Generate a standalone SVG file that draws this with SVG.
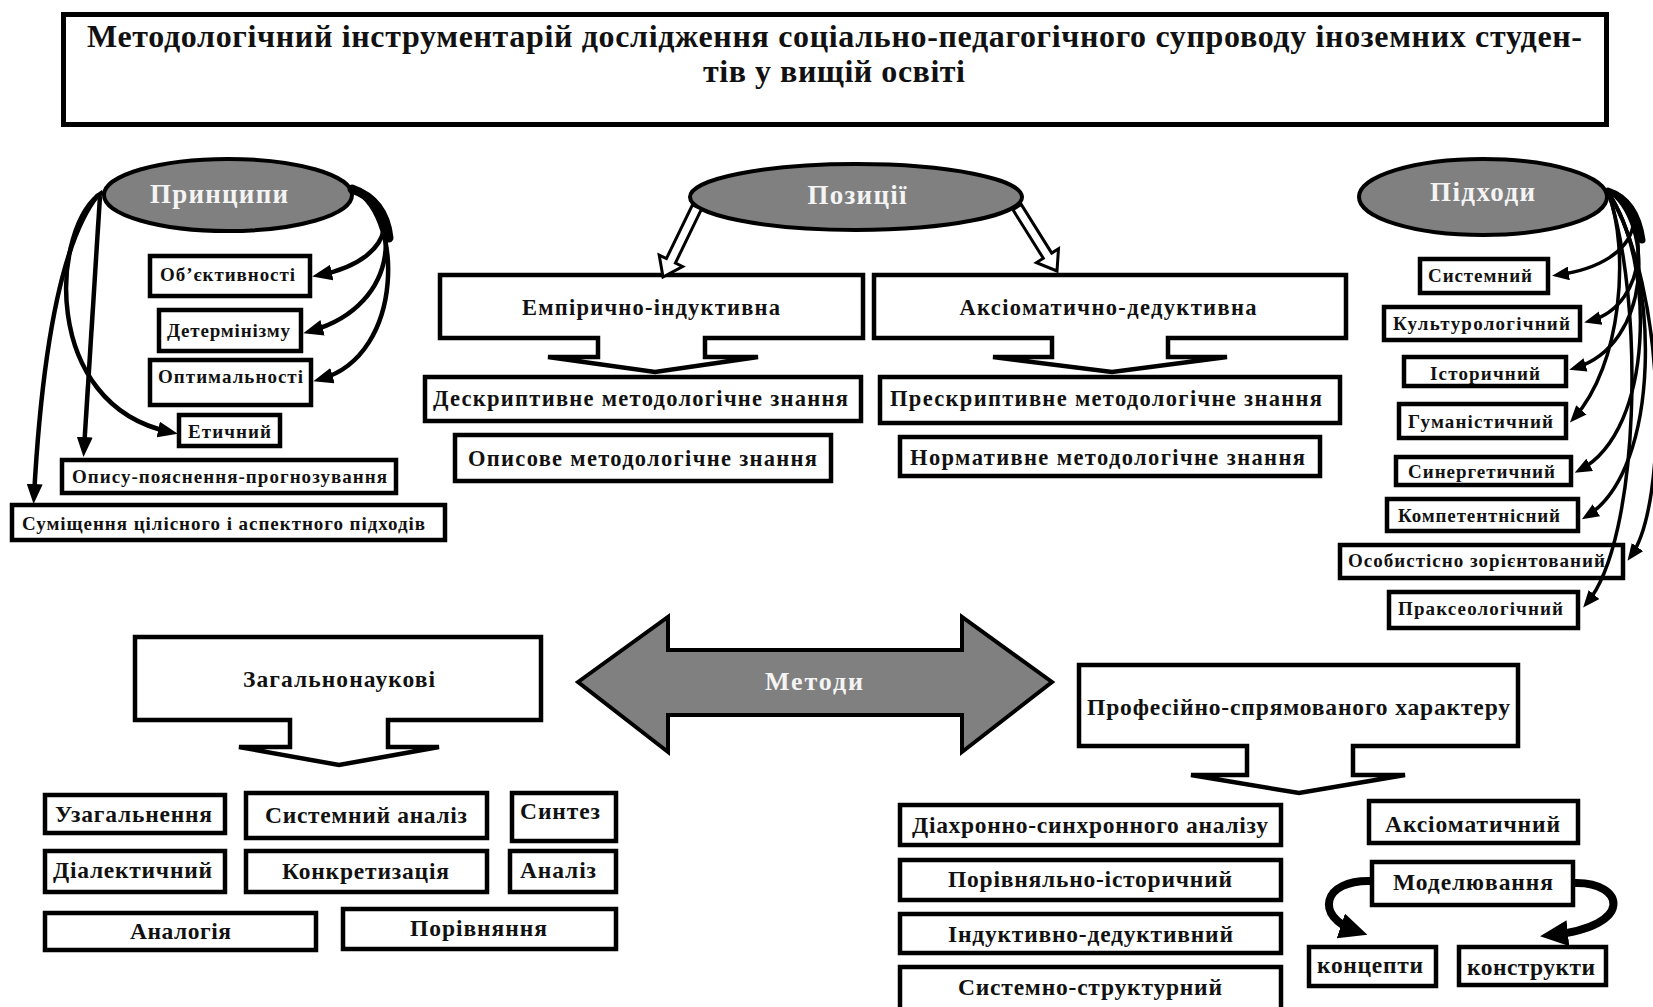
<svg xmlns="http://www.w3.org/2000/svg" width="1653" height="1007" viewBox="0 0 1653 1007">
  <defs>
    <marker id="head" markerUnits="userSpaceOnUse" markerWidth="20" markerHeight="16" refX="12" refY="8" orient="auto">
      <path d="M0,0 L20,8 L0,16 Z" fill="#000"/>
    </marker>
    <marker id="headS" markerUnits="userSpaceOnUse" markerWidth="17" markerHeight="14" refX="11" refY="7" orient="auto">
      <path d="M0,0 L17,7 L0,14 Z" fill="#000"/>
    </marker>
    <marker id="headBig" markerUnits="userSpaceOnUse" markerWidth="28" markerHeight="26" refX="16" refY="13" orient="auto">
      <path d="M0,0 L28,13 L0,26 Z" fill="#000"/>
    </marker>
  </defs>
  <style>
    text { font-family: "Liberation Serif", "Times New Roman", serif; font-weight: bold; fill: #111; text-anchor: middle; }
    .box { fill: #fff; stroke: #000; stroke-width: 4.5; }
    .oval { fill: #808080; stroke: #000; stroke-width: 4; }
    .oval-t { fill: #f4f4f4; font-size: 27px; }
    .title { font-size: 32px; }
    .s18 { font-size: 19px; }
    .s21 { font-size: 22.5px; }
    .s22 { font-size: 23.5px; }
    .wire { fill: none; stroke: #000; stroke-width: 4.5; marker-end: url(#head); }
    .wire-s { fill: none; stroke: #000; stroke-width: 3.5; marker-end: url(#headS); }
    .wire-b { fill: none; stroke: #000; stroke-width: 8; marker-end: url(#headBig); }
    .bundle { fill: none; stroke: #000; stroke-linecap: round; }
    .hollow { fill: #fff; stroke: #000; stroke-width: 3; stroke-linejoin: miter; }
  </style>

  <rect width="1653" height="1007" fill="#fff"/>

  <!-- Title -->
  <g id="title">
    <rect x="63.5" y="14.5" width="1543" height="110" fill="#fff" stroke="#000" stroke-width="5"/>
    <text class="title" x="834.5" y="47" textLength="1495">Методологічний інструментарій дослідження соціально-педагогічного супроводу іноземних студен-</text>
    <text class="title" x="834" y="82" textLength="262">тів у вищій освіті</text>
  </g>

  <!-- Principles -->
  <g id="principles">
    <ellipse class="oval" cx="228" cy="195" rx="124" ry="36"/>
    <text class="oval-t" x="219" y="203" textLength="138">Принципи</text>
  </g>
  <g id="p-objectivity">
    <rect class="box" x="150" y="256" width="160" height="40"/>
    <text class="s18" x="227.5" y="281" textLength="135">Об’єктивності</text>
  </g>
  <g id="p-determinism">
    <rect class="box" x="159" y="310" width="142" height="41"/>
    <text class="s18" x="228.5" y="337" textLength="123">Детермінізму</text>
  </g>
  <g id="p-optimality">
    <rect class="box" x="150" y="360" width="161" height="45"/>
    <text class="s18" x="230.5" y="383" textLength="145">Оптимальності</text>
  </g>
  <g id="p-ethical">
    <rect class="box" x="179" y="415" width="101" height="31"/>
    <text class="s18" x="229.5" y="438" textLength="83">Етичний</text>
  </g>
  <g id="p-describe">
    <rect class="box" x="62" y="460" width="334" height="33"/>
    <text class="s18" x="229.5" y="483" textLength="315">Опису-пояснення-прогнозування</text>
  </g>
  <g id="p-combine">
    <rect class="box" x="12" y="505" width="433" height="35"/>
    <text class="s18" x="223.5" y="530" textLength="403">Суміщення цілісного і аспектного підходів</text>
  </g>

  <!-- Positions -->
  <g id="positions">
    <ellipse class="oval" cx="856" cy="197" rx="166" ry="33"/>
    <text class="oval-t" x="857" y="204" textLength="99">Позиції</text>
  </g>
  <g id="pos-empirical">
    <polygon class="box" points="440,275 863,275 863,338 705,338 705,357 758,357 655,372 548,357 598,357 598,338 440,338"/>
    <text class="s21" x="651" y="315" textLength="258">Емпірично-індуктивна</text>
  </g>
  <g id="pos-axiomatic">
    <polygon class="box" points="874,275 1346,275 1346,338 1168,338 1168,357 1227,357 1112,372 993,357 1052,357 1052,338 874,338"/>
    <text class="s21" x="1108" y="315" textLength="297">Аксіоматично-дедуктивна</text>
  </g>
  <g id="pos-descriptive">
    <rect class="box" x="425" y="377" width="436" height="44"/>
    <text class="s21" x="640.5" y="406" textLength="415">Дескриптивне методологічне знання</text>
  </g>
  <g id="pos-descriptional">
    <rect class="box" x="455" y="435" width="376" height="46"/>
    <text class="s21" x="642.5" y="466" textLength="349">Описове методологічне знання</text>
  </g>
  <g id="pos-prescriptive">
    <rect class="box" x="880" y="377" width="460" height="46"/>
    <text class="s21" x="1106" y="406" textLength="432">Прескриптивне методологічне знання</text>
  </g>
  <g id="pos-normative">
    <rect class="box" x="900" y="437" width="420" height="39"/>
    <text class="s21" x="1107.5" y="465" textLength="395">Нормативне методологічне знання</text>
  </g>

  <!-- Approaches -->
  <g id="approaches">
    <ellipse class="oval" cx="1483" cy="197" rx="124" ry="38"/>
    <text class="oval-t" x="1482.5" y="201" textLength="105">Підходи</text>
  </g>
  <g id="a-systemic">
    <rect class="box" x="1420" y="259" width="128" height="34"/>
    <text class="s18" x="1480" y="282" textLength="104">Системний</text>
  </g>
  <g id="a-cultural">
    <rect class="box" x="1384" y="307" width="196" height="33"/>
    <text class="s18" x="1481.5" y="330" textLength="177">Культурологічний</text>
  </g>
  <g id="a-historical">
    <rect class="box" x="1404" y="357" width="162" height="29"/>
    <text class="s18" x="1485" y="380" textLength="110">Історичний</text>
  </g>
  <g id="a-humanistic">
    <rect class="box" x="1399" y="404" width="167" height="34"/>
    <text class="s18" x="1480.5" y="428" textLength="145">Гуманістичний</text>
  </g>
  <g id="a-synergetic">
    <rect class="box" x="1396" y="457" width="175" height="28"/>
    <text class="s18" x="1481.5" y="478" textLength="147">Синергетичний</text>
  </g>
  <g id="a-competence">
    <rect class="box" x="1387" y="499" width="191" height="32"/>
    <text class="s18" x="1479" y="522" textLength="162">Компетентнісний</text>
  </g>
  <g id="a-personal">
    <rect class="box" x="1340" y="545" width="283" height="33"/>
    <text class="s18" x="1476.5" y="567" textLength="257">Особистісно зорієнтований</text>
  </g>
  <g id="a-praxeological">
    <rect class="box" x="1389" y="592" width="189" height="36"/>
    <text class="s18" x="1480.5" y="615" textLength="165">Праксеологічний</text>
  </g>

  <!-- Methods -->
  <g id="methods">
    <polygon points="578,682 668,617 668,650 962,650 962,617 1052,682 962,752 962,715 668,715 668,752" fill="#808080" stroke="#000" stroke-width="4" stroke-linejoin="miter"/>
    <text class="oval-t" x="814" y="690" style="font-size:26px" textLength="98">Методи</text>
  </g>
  <g id="m-general">
    <polygon class="box" points="135,637 541,637 541,720 388,720 388,747 439,747 339,765 239,747 290,747 290,720 135,720"/>
    <text class="s22" x="339" y="687" textLength="192">Загальнонаукові</text>
  </g>
  <g id="m-generalization">
    <rect class="box" x="45" y="795" width="180" height="38"/>
    <text class="s22" x="133.5" y="822" textLength="157">Узагальнення</text>
  </g>
  <g id="m-system-analysis">
    <rect class="box" x="246" y="793" width="241" height="45"/>
    <text class="s22" x="366" y="823" textLength="202">Системний аналіз</text>
  </g>
  <g id="m-synthesis">
    <rect class="box" x="512" y="793" width="104" height="48"/>
    <text class="s22" x="560" y="819" textLength="80">Синтез</text>
  </g>
  <g id="m-dialectical">
    <rect class="box" x="45" y="851" width="180" height="41"/>
    <text class="s22" x="132.5" y="878" textLength="159">Діалектичний</text>
  </g>
  <g id="m-concretization">
    <rect class="box" x="246" y="851" width="241" height="41"/>
    <text class="s22" x="365.5" y="879" textLength="167">Конкретизація</text>
  </g>
  <g id="m-analysis">
    <rect class="box" x="510" y="851" width="106" height="41"/>
    <text class="s22" x="558" y="878" textLength="76">Аналіз</text>
  </g>
  <g id="m-analogy">
    <rect class="box" x="45" y="913" width="271" height="37"/>
    <text class="s22" x="180.5" y="939" textLength="101">Аналогія</text>
  </g>
  <g id="m-comparison">
    <rect class="box" x="343" y="909" width="273" height="40"/>
    <text class="s22" x="478.5" y="936" textLength="137">Порівняння</text>
  </g>
  <g id="m-professional">
    <polygon class="box" points="1079,665 1518,665 1518,746 1353,746 1353,775 1405,775 1299,793 1191,775 1247,775 1247,746 1079,746"/>
    <text class="s22" x="1298.5" y="715" textLength="423">Професійно-спрямованого характеру</text>
  </g>
  <g id="m-diachronic">
    <rect class="box" x="900" y="805" width="381" height="40"/>
    <text class="s22" x="1090" y="833" textLength="356">Діахронно-синхронного аналізу</text>
  </g>
  <g id="m-comparative-historical">
    <rect class="box" x="900" y="860" width="381" height="40"/>
    <text class="s22" x="1090" y="887" textLength="284">Порівняльно-історичний</text>
  </g>
  <g id="m-inductive-deductive">
    <rect class="box" x="900" y="914" width="381" height="39"/>
    <text class="s22" x="1090.5" y="942" textLength="285">Індуктивно-дедуктивний</text>
  </g>
  <g id="m-system-structural">
    <rect class="box" x="900" y="967" width="381" height="60"/>
    <text class="s22" x="1090" y="995" textLength="264">Системно-структурний</text>
  </g>
  <g id="m-axiomatic">
    <rect class="box" x="1369" y="801" width="209" height="42"/>
    <text class="s22" x="1472.5" y="832" textLength="175">Аксіоматичний</text>
  </g>
  <g id="m-modelling">
    <rect class="box" x="1372" y="862" width="201" height="43"/>
    <text class="s22" x="1473" y="890" textLength="160">Моделювання</text>
  </g>
  <g id="m-concepts">
    <rect class="box" x="1309" y="947" width="127" height="39"/>
    <text class="s22" x="1370" y="973" textLength="106">концепти</text>
  </g>
  <g id="m-constructs">
    <rect class="box" x="1459" y="947" width="147" height="38"/>
    <text class="s22" x="1531" y="975" textLength="128">конструкти</text>
  </g>

  <!-- Connectors -->
  <g id="connectors">
    <!-- principles, right side: shared thick root, then three branches -->
    <path class="bundle" stroke-width="9" d="M352,189 C372,196 386,210 389,238"/>
    <path class="wire" d="M350,188 C398,200 402,258 320,275"/>
    <path class="wire" d="M350,188 C402,205 404,305 311,331"/>
    <path class="wire" d="M350,188 C404,210 406,355 321,379"/>
    <!-- principles, left side -->
    <path class="wire" d="M103,192 C50,225 40,405 170,432"/>
    <path class="wire" d="M100,196 L84,449"/>
    <path class="wire" d="M98,195 C62,240 42,350 34,496"/>

    <!-- positions: hollow arrows -->
    <polygon class="hollow" points="701.5,209.2 675.4,263 682.6,266.5 663,277 659.2,255.1 666.4,258.6 692.5,204.8"/>
    <polygon class="hollow" points="1021.2,204.4 1051.7,253.1 1058.5,248.8 1057,271 1036.5,262.6 1043.3,258.3 1012.8,209.6"/>

    <!-- approaches: shared thick root, then eight branches -->
    <path class="bundle" stroke-width="7" d="M1608,191 C1626,197 1638,212 1642,240"/>
    <path class="wire-s" d="M1607,190 C1648,200 1648,262 1558,275"/>
    <path class="wire-s" d="M1607,190 C1652,210 1650,305 1590,321"/>
    <path class="wire-s" d="M1607,190 C1655,220 1652,345 1575,368"/>
    <path class="wire-s" d="M1608,192 C1630,250 1622,365 1574,418"/>
    <path class="wire-s" d="M1608,192 C1655,260 1655,430 1580,470"/>
    <path class="wire-s" d="M1608,192 C1660,270 1662,470 1587,516"/>
    <path class="wire-s" d="M1608,192 C1668,290 1668,505 1631,556"/>
    <path class="wire-s" d="M1608,192 C1645,300 1640,540 1587,603"/>

    <!-- modelling -->
    <path class="wire-b" d="M1372,881 C1322,879 1314,917 1356,931"/>
    <path class="wire-b" d="M1575,883 C1624,882 1636,926 1552,935"/>
  </g>
</svg>
